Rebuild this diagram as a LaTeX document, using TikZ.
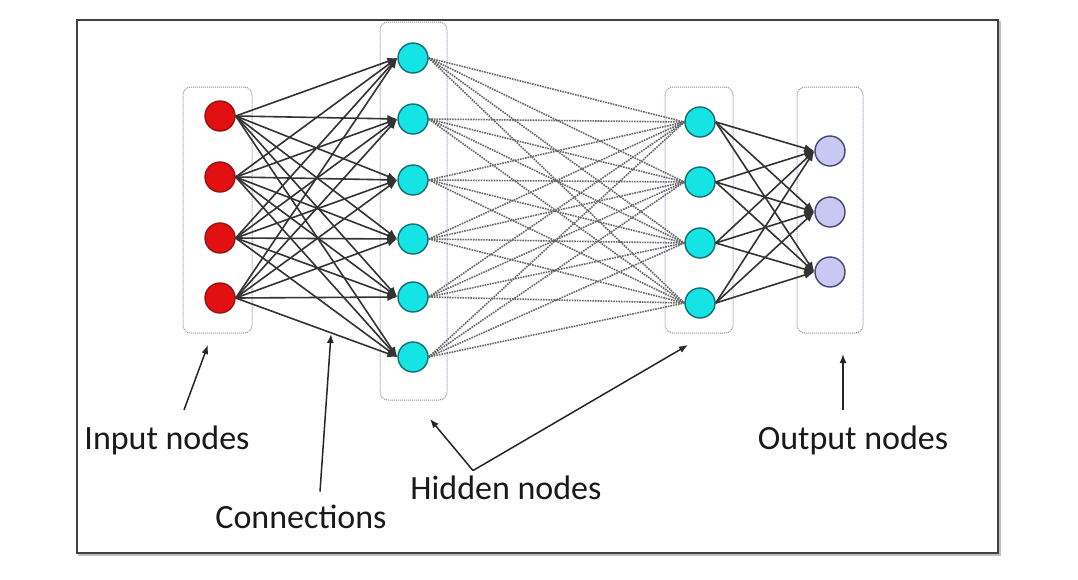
\documentclass[tikz,border=0pt]{standalone}
\usepackage{fontspec}
\setmainfont{Carlito}
\usetikzlibrary{arrows.meta, positioning, calc}
\definecolor{inred}{RGB}{226,16,16}
\definecolor{inredline}{RGB}{150,20,20}
\definecolor{hidcyan}{RGB}{20,228,228}
\definecolor{hidline}{RGB}{20,110,115}
\definecolor{outlav}{RGB}{200,200,242}
\definecolor{outline}{RGB}{70,70,110}
\definecolor{boxline}{RGB}{140,140,185}
\tikzset{
  unit/.style={
    circle, line width=1.4pt, minimum size=30pt, inner sep=0pt
  },
  inunit/.style={unit, fill=inred, draw=inredline},
  hidunit/.style={unit, fill=hidcyan, draw=hidline},
  outunit/.style={unit, fill=outlav, draw=outline},
  layerbox/.style={rectangle, draw=boxline, densely dotted, line width=1pt, rounded corners=8pt},
  conn/.style={-{Latex[length=10pt,width=8pt]}, line width=1.6pt, draw=black!80},
  weak/.style={densely dotted, line width=1.6pt, draw=black!60},
  pointer/.style={-{Latex[length=9pt,width=7pt]}, line width=1.5pt, draw=black!85},
  caption/.style={font=\fontsize{34}{40}\selectfont, text=black!90}
}

\begin{document}
\begin{tikzpicture}[x=1pt, y=-1pt]
    \useasboundingbox (0,0) rectangle (1078,579);
    % frame
    \draw[black!25, line width=2.5pt] (79,22) rectangle (1000,555);
    \fill[white] (77,20) rectangle (998,553);
    \draw[black!75, line width=1.5pt] (77,20) rectangle (998,553);
    % layer boxes
    \node[layerbox, minimum width=69pt, minimum height=246pt] (boxIn) at (217.5,210) {};
    \node[layerbox, minimum width=67pt, minimum height=378pt] (boxHa) at (413.5,211) {};
    \node[layerbox, minimum width=68pt, minimum height=246pt] (boxHb) at (699,210) {};
    \node[layerbox, minimum width=66pt, minimum height=246pt] (boxOut) at (830,210) {};
    % units
    \foreach \y [count=\i] in {116,177,238,298}
      \node[inunit] (in\i) at (220,\y) {};
    \foreach \y [count=\i] in {58,119,180,239,297,357}
      \node[hidunit] (ha\i) at (413,\y) {};
    \foreach \y [count=\i] in {122,182,243,303}
      \node[hidunit] (hb\i) at (700,\y) {};
    \foreach \y [count=\i] in {151,212,272}
      \node[outunit] (out\i) at (830,\y) {};
    % connections
    \foreach \i in {1,...,6}
      \foreach \j in {1,...,4}
        \draw[weak] (ha\i.east) -- (hb\j.west);
    \foreach \i in {1,...,4}
      \foreach \j in {1,...,6}
        \draw[conn] (in\i.east) -- (ha\j.west);
    \foreach \i in {1,...,4}
      \foreach \j in {1,...,3}
        \draw[conn] (hb\i.east) -- (out\j.west);
    % labels
    \node[caption] (lblIn) at (167,440) {Input nodes};
    \node[caption] (lblCon) at (301,517) {Connections};
    \node[caption] (lblHid) at (506,488) {Hidden nodes};
    \node[caption] (lblOut) at (853,440) {Output nodes};
    \coordinate (pIn) at (208,345);
    \coordinate (pCon) at (331,334);
    \coordinate (pHa) at (430,419);
    \coordinate (pHb) at (688,345);
    \coordinate (pOut) at (843,354);
    \draw[pointer] ([xshift=17pt, yshift=12pt]lblIn.north) -- (pIn);
    \draw[pointer] ([xshift=19pt, yshift=10pt]lblCon.north) -- (pCon);
    \draw[pointer] ([xshift=-33pt, yshift=2pt]lblHid.north) -- (pHa);
    \draw[pointer] ([xshift=-33pt, yshift=2pt]lblHid.north) -- (pHb);
    \draw[pointer] ([xshift=-10pt, yshift=12pt]lblOut.north) -- (pOut);
\end{tikzpicture}
\end{document}
